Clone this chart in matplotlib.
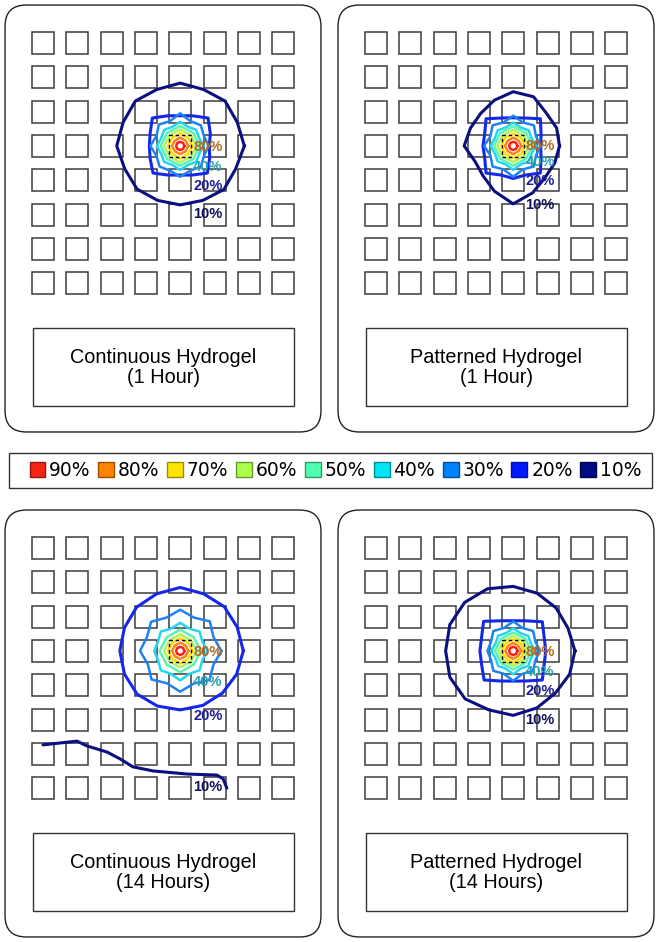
import matplotlib
matplotlib.use("Agg")
import matplotlib.pyplot as plt
import matplotlib.colors as mcolors
from matplotlib.patches import FancyBboxPatch, Rectangle, Patch
import numpy as np

# contour levels, outer to inner
levels = ["10%", "20%", "30%", "40%", "50%", "60%", "70%", "80%", "90%"]
line_colors = ["#0c0f80", "#1428ea", "#1e82f5", "#22d6f0", "#5cf2b4",
               "#b4f25a", "#ffdc00", "#ff8214", "#ff1e14"]
legend_colors = ["#000a82", "#0019ff", "#0082ff", "#00e6f5", "#50ffaf",
                 "#aaff4b", "#ffe600", "#ff8200", "#f52314"]

titles = ["Continuous Hydrogel\n(1 Hour)", "Patterned Hydrogel\n(1 Hour)",
          "Continuous Hydrogel\n(14 Hours)", "Patterned Hydrogel\n(14 Hours)"]

# contour radii in grid pitches, evenly spaced angles counter-clockwise from the right
cont_c1 = [
    [1.87, 1.80, 1.85, 1.78, 1.83, 1.78, 1.85, 1.80, 1.85, 1.75, 1.78, 1.72, 1.72, 1.72, 1.80, 1.75],
    [0.85, 0.95, 1.15, 0.95, 0.88, 0.95, 1.15, 0.95, 0.90, 0.95, 1.12, 0.92, 0.85, 0.92, 1.12, 0.93],
    [0.83, 0.75, 0.85, 0.78, 0.95, 0.78, 0.88, 0.75, 0.87, 0.75, 0.85, 0.78, 0.90, 0.78, 0.85, 0.75],
    [0.68, 0.60, 0.66, 0.60, 0.70, 0.60, 0.66, 0.60, 0.68, 0.60, 0.66, 0.60, 0.70, 0.60, 0.66, 0.60],
    [0.57, 0.54, 0.58, 0.54, 0.57, 0.54, 0.58, 0.54],
    [0.47, 0.44, 0.48, 0.44, 0.47, 0.44, 0.48, 0.44],
    [0.36, 0.33, 0.37, 0.33, 0.36, 0.33, 0.37, 0.33],
    [0.24, 0.22, 0.24, 0.22, 0.24, 0.22, 0.24, 0.22],
    [0.12, 0.12, 0.12, 0.12, 0.12, 0.12, 0.12, 0.12],
]
cont_p1 = [
    [1.35, 1.37, 1.36, 1.55, 1.58, 1.44, 1.34, 1.35, 1.43, 1.20, 1.24, 1.43, 1.69, 1.48, 1.31, 1.31],
    [0.80, 0.88, 1.12, 0.88, 0.82, 0.88, 1.12, 0.90, 0.88, 0.90, 1.12, 0.92, 0.95, 0.92, 1.12, 0.88],
    [0.80, 0.72, 0.85, 0.74, 0.88, 0.74, 0.85, 0.72, 0.85, 0.72, 0.85, 0.74, 0.90, 0.74, 0.85, 0.72],
    [0.66, 0.58, 0.64, 0.58, 0.68, 0.58, 0.64, 0.58, 0.66, 0.58, 0.64, 0.58, 0.70, 0.58, 0.64, 0.58],
    [0.56, 0.53, 0.57, 0.53, 0.56, 0.53, 0.58, 0.53],
    [0.46, 0.43, 0.47, 0.43, 0.46, 0.43, 0.47, 0.43],
    [0.35, 0.33, 0.36, 0.33, 0.35, 0.33, 0.36, 0.33],
    [0.24, 0.22, 0.24, 0.22, 0.24, 0.22, 0.24, 0.22],
    [0.12, 0.12, 0.12, 0.12, 0.12, 0.12, 0.12, 0.12],
]
cont_c14 = [
    None,
    [1.84, 1.80, 1.82, 1.80, 1.85, 1.80, 1.80, 1.76, 1.76, 1.76, 1.78, 1.74, 1.72, 1.72, 1.74, 1.78],
    [1.20, 1.05, 1.22, 1.05, 1.20, 1.05, 1.20, 1.05, 1.17, 1.02, 1.18, 1.02, 1.19, 1.03, 1.20, 1.05],
    [0.80, 0.70, 0.80, 0.70, 0.82, 0.70, 0.80, 0.70, 0.76, 0.70, 0.80, 0.72, 0.86, 0.72, 0.80, 0.70],
    [0.60, 0.56, 0.62, 0.56, 0.60, 0.56, 0.62, 0.56],
    [0.47, 0.44, 0.48, 0.44, 0.47, 0.44, 0.48, 0.44],
    [0.36, 0.33, 0.37, 0.33, 0.36, 0.33, 0.37, 0.33],
    [0.24, 0.22, 0.24, 0.22, 0.24, 0.22, 0.24, 0.22],
    [0.12, 0.12, 0.12, 0.12, 0.12, 0.12, 0.12, 0.12],
]
# 10% line of the continuous 14 h case is open (grid units: column, row)
c14_10_x = [0.00, 0.99, 1.28, 1.87, 2.25, 2.62, 3.21, 4.20, 5.07, 5.25, 5.36]
c14_10_y = [5.74, 5.63, 5.77, 5.95, 6.15, 6.38, 6.50, 6.59, 6.62, 6.73, 7.00]
cont_p14 = [
    [1.80, 1.73, 1.77, 1.82, 1.88, 1.96, 2.00, 2.00, 1.97, 2.00, 1.98, 1.86, 1.88, 1.80, 1.74, 1.78],
    [0.95, 0.98, 1.20, 0.95, 0.88, 0.95, 1.22, 1.00, 0.97, 1.00, 1.20, 0.95, 0.88, 0.95, 1.20, 0.98],
    [0.78, 0.70, 0.82, 0.72, 0.86, 0.72, 0.82, 0.70, 0.75, 0.70, 0.82, 0.72, 0.87, 0.72, 0.82, 0.70],
    [0.64, 0.56, 0.62, 0.56, 0.66, 0.56, 0.62, 0.56, 0.64, 0.56, 0.62, 0.56, 0.68, 0.56, 0.62, 0.56],
    [0.53, 0.50, 0.54, 0.50, 0.53, 0.50, 0.54, 0.50],
    [0.43, 0.40, 0.44, 0.40, 0.43, 0.40, 0.44, 0.40],
    [0.33, 0.31, 0.34, 0.31, 0.33, 0.31, 0.34, 0.31],
    [0.23, 0.21, 0.23, 0.21, 0.23, 0.21, 0.23, 0.21],
    [0.12, 0.12, 0.12, 0.12, 0.12, 0.12, 0.12, 0.12],
]

# inline labels: which levels, and their offsets (grid pitches) from the source
label_levels = ["80%", "40%", "20%", "10%"]
label_text_colors = ["#b06a24", "#2a9eac", "#1c1c96", "#12125a"]
lab_dx = [[0.38, 0.38, 0.38, 0.38], [0.35, 0.38, 0.35, 0.35],
          [0.38, 0.38, 0.38, 0.37], [0.35, 0.35, 0.35, 0.35]]
lab_dy = [[0.03, 0.61, 1.17, 1.99], [0.00, 0.47, 1.02, 1.72],
          [0.03, 0.90, 1.90, 3.97], [0.03, 0.61, 1.17, 2.01]]

W, H = 661, 942
PITCH = 34.3
PW, PH = 318, 429
OFF = 39
SRC = (4, 3)

fig = plt.figure(figsize=(W / 100, H / 100), dpi=100)


def draw_panel(x0, y0, k, radii, open_x=None, open_y=None):
    ax = fig.add_axes([x0 / W, 1 - (y0 + PH) / H, PW / W, PH / H])
    xa, xb = -OFF / PITCH, (PW - OFF) / PITCH
    ya, yb = -OFF / PITCH, (PH - OFF) / PITCH
    ax.set_xlim(xa, xb)
    ax.set_ylim(yb, ya)
    ax.axis("off")
    ax.add_patch(FancyBboxPatch((xa + 0.03, ya + 0.03), xb - xa - 0.06, yb - ya - 0.06,
                                boxstyle="round,pad=0,rounding_size=0.62",
                                fc="white", ec="#222222", lw=1.0, clip_on=False))
    s = 22 / PITCH
    for i in range(8):
        for j in range(8):
            if (i, j) == SRC:
                continue
            ax.add_patch(Rectangle((i - s / 2, j - s / 2), s, s, fc="none",
                                   ec="#3c3c3c", lw=1.1, zorder=2))
    cx, cy = SRC
    for lev, r in enumerate(radii):
        lw = 2.2 if lev < 2 else 1.8
        if r is None:
            ax.plot(open_x, open_y, color=line_colors[lev], lw=lw, zorder=3,
                    solid_capstyle="round")
            continue
        r = np.array(r + [r[0]])
        th = np.linspace(0, 2 * np.pi, len(r) - 1, endpoint=False)
        th = np.append(th, 2 * np.pi)
        ax.plot(cx + r * np.cos(th), cy - r * np.sin(th), color=line_colors[lev],
                lw=lw, zorder=3, solid_joinstyle="round")
    ax.add_patch(Rectangle((cx - s / 2, cy - s / 2), s, s, fc="none", ec="black",
                           lw=1.0, ls=(0, (2.5, 2)), zorder=4))
    for t, col, dx, dy in zip(label_levels, label_text_colors, lab_dx[k], lab_dy[k]):
        ax.text(cx + dx, cy + dy, t, color=col, fontsize=10.5, ha="left", va="center",
                family="Liberation Sans", weight="bold", zorder=5)
    bx0, bx1 = (29 - OFF) / PITCH, (290 - OFF) / PITCH
    by0, by1 = (324 - OFF) / PITCH, (402 - OFF) / PITCH
    ax.add_patch(Rectangle((bx0, by0), bx1 - bx0, by1 - by0, fc="white",
                           ec="#333333", lw=1.0))
    ax.text((bx0 + bx1) / 2, (by0 + by1) / 2 + 0.02, titles[k], ha="center", va="center",
            fontsize=14.3, family="Liberation Sans", linespacing=1.1)


draw_panel(4, 4, 0, cont_c1)
draw_panel(337, 4, 1, cont_p1)
draw_panel(4, 509, 2, cont_c14, c14_10_x, c14_10_y)
draw_panel(337, 509, 3, cont_p14)

# legend frame, then the legend entries inside it
fig.patches.append(Rectangle((9 / W, 1 - 488 / H), 643 / W, 35 / H, fc="white",
                             ec="#333333", lw=1.0, transform=fig.transFigure))
handles = []
for c in legend_colors[::-1]:
    rgb = np.array(mcolors.to_rgb(c)) * 0.6
    handles.append(Patch(facecolor=c, edgecolor=rgb, lw=1.0))
leg = fig.legend(handles, levels[::-1], ncol=9, loc="center",
                 bbox_to_anchor=(22 / W, 1 - 488 / H, 627 / W, 35 / H), mode="expand",
                 borderaxespad=0,
                 prop={"family": "DejaVu Sans", "size": 13.5}, handlelength=0.85,
                 handleheight=0.85, handletextpad=0.2, columnspacing=0.3,
                 borderpad=0.4, frameon=False)

fig.savefig("out.png", dpi=100)
